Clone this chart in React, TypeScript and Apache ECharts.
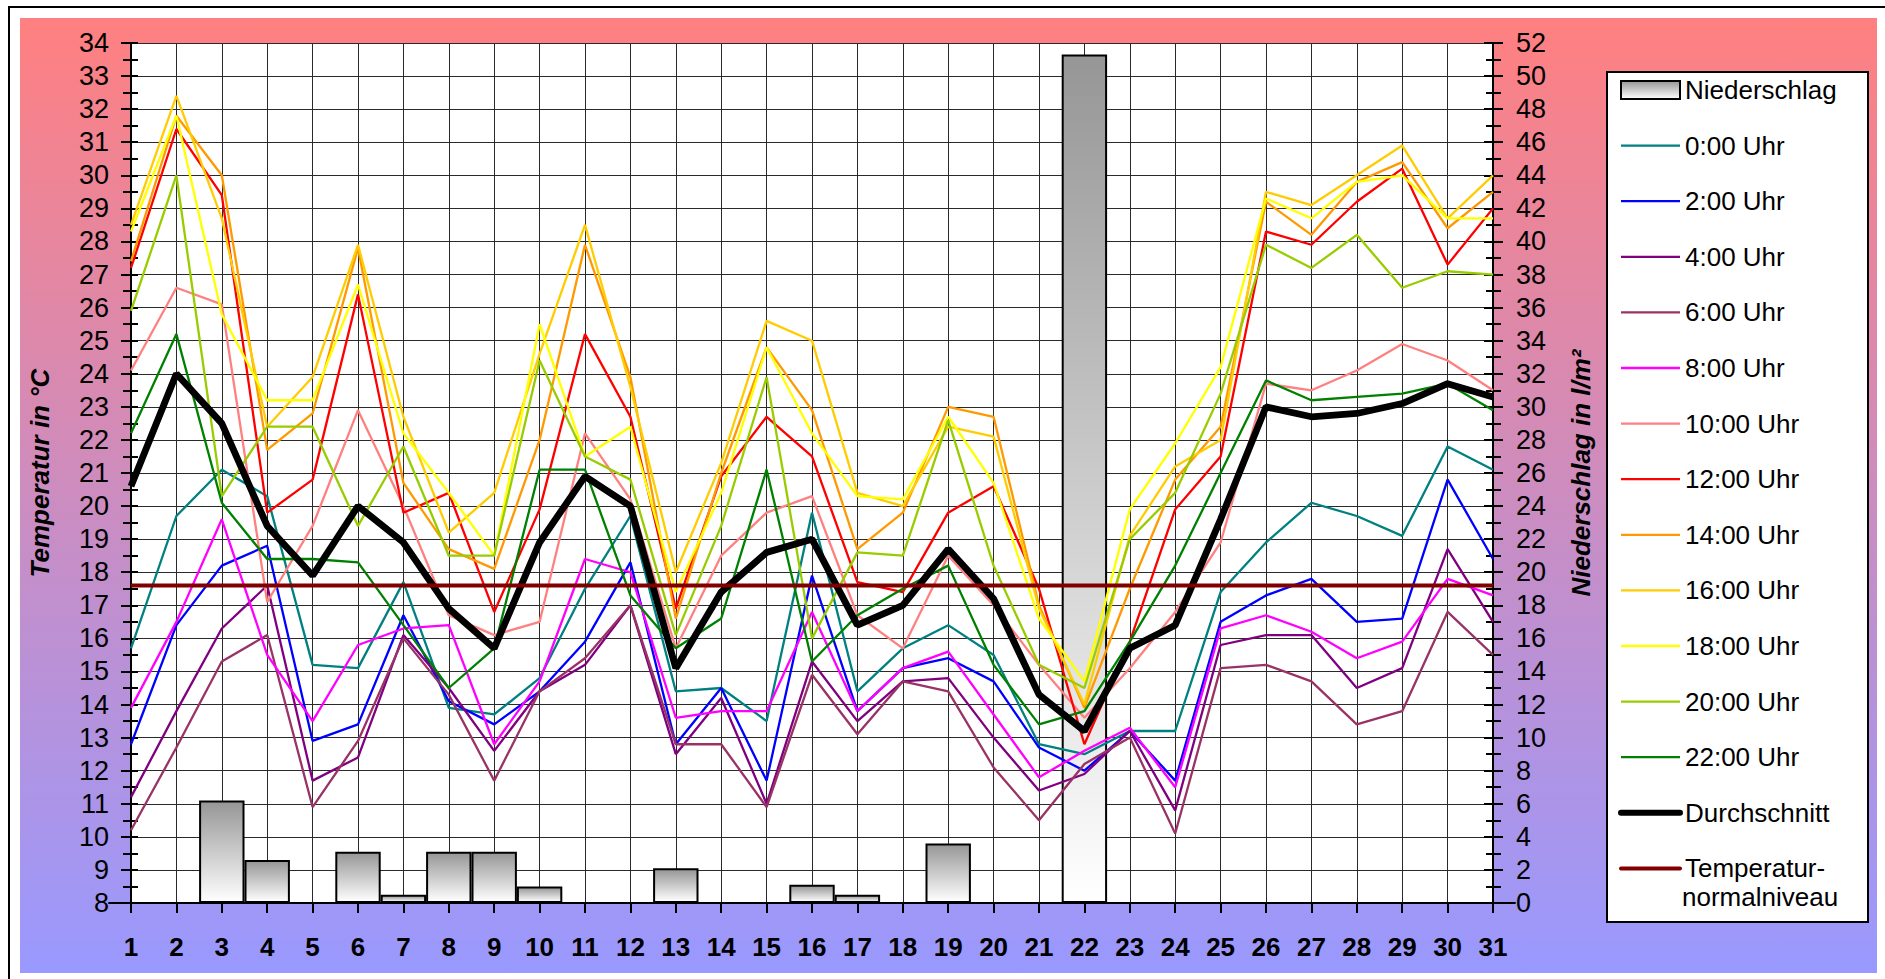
import React, { useEffect, useRef } from 'react';
import * as echarts from 'echarts';

const FONT = 'Arial, "Liberation Sans", sans-serif';

const days = ['1','2','3','4','5','6','7','8','9','10','11','12','13','14','15','16','17','18','19','20','21','22','23','24','25','26','27','28','29','30','31'];

// Niederschlag in l/m²
const rain = [0,0,6.2,2.6,0,3.1,0.5,3.1,3.1,1.0,0,0,2.1,0,0,1.1,0.5,0,3.6,0,0,51.3,0,0,0,0,0,0,0,0,0];

const t00 = [15.7,19.7,21.1,20.3,15.2,15.1,17.7,13.9,13.7,14.8,17.5,19.7,14.4,14.5,13.5,19.8,14.4,15.7,16.4,15.5,12.8,12.5,13.2,13.2,17.4,18.9,20.1,19.7,19.1,21.8,21.1];
const t02 = [12.8,16.4,18.2,18.8,12.9,13.4,16.7,14.1,13.4,14.4,15.9,18.3,12.8,14.5,11.7,17.9,13.8,15.1,15.4,14.7,12.7,12.0,13.2,11.7,16.5,17.3,17.8,16.5,16.6,20.8,18.4];
const t04 = [11.2,13.8,16.3,17.6,11.7,12.4,16.1,14.5,12.6,14.4,15.2,17.0,12.5,14.2,11.0,15.3,13.5,14.7,14.8,13.0,11.4,11.9,13.2,10.8,15.8,16.1,16.1,14.5,15.1,18.7,16.5];
const t06 = [10.2,12.7,15.3,16.1,10.9,12.9,16.0,14.3,11.7,14.4,15.4,17.0,12.8,12.8,10.9,14.9,13.1,14.7,14.4,12.1,10.5,12.2,13.0,10.1,15.1,15.2,14.7,13.4,13.8,16.8,15.5];
const t08 = [13.9,16.5,19.6,15.5,13.5,15.8,16.3,16.4,12.8,14.7,18.4,18.0,13.6,13.8,13.8,16.8,13.8,15.1,15.6,13.7,11.8,12.6,13.3,11.5,16.3,16.7,16.2,15.4,15.9,17.8,17.3];
const t10 = [24.1,26.6,26.1,17.1,19.4,22.9,20.0,16.7,16.1,16.5,22.2,20.2,15.7,18.5,19.8,20.3,16.7,15.7,18.5,17.0,15.2,13.6,15.1,16.8,18.9,23.7,23.5,24.1,24.9,24.4,23.5];
const t12 = [27.2,31.4,29.4,19.8,20.8,26.4,19.8,20.4,16.8,19.9,25.2,22.7,16.9,20.9,22.7,21.5,17.7,17.4,19.8,20.6,17.5,12.8,15.9,19.9,21.5,28.3,27.9,29.2,30.2,27.3,29.0];
const t14 = [27.4,31.8,30.0,21.7,22.8,27.8,20.7,18.7,18.1,22.0,27.9,23.9,16.6,21.0,24.8,22.9,18.7,19.8,23.0,22.7,17.0,13.9,17.5,20.8,22.4,29.2,28.2,29.8,30.4,28.4,29.5];
const t16 = [28.5,32.4,28.7,22.4,23.9,27.9,22.7,19.2,20.4,24.6,28.5,23.6,18.0,21.3,25.6,25.0,20.4,20.0,22.4,22.1,16.9,14.0,19.1,21.2,22.0,29.5,29.1,30.0,30.9,28.7,30.0];
const t18 = [28.3,31.8,25.8,23.2,23.2,26.7,22.2,20.4,18.5,25.5,21.5,22.4,17.4,20.4,24.8,22.2,20.3,20.2,22.7,20.7,16.6,14.7,19.9,21.9,24.2,29.3,28.7,29.8,30.0,28.7,28.7];
const t20 = [25.9,30.0,20.3,22.4,22.4,19.4,21.8,18.5,18.5,24.4,21.5,20.8,16.1,19.4,23.9,16.0,18.6,18.5,22.6,18.2,15.2,14.5,19.0,20.4,23.4,27.9,27.2,28.2,26.6,27.1,27.0];
const t22 = [22.2,25.2,20.1,18.4,18.4,18.3,16.4,14.5,15.7,21.1,21.1,17.3,15.7,16.6,21.1,15.3,16.7,17.5,18.2,15.2,13.4,13.8,15.9,18.2,21.0,23.8,23.2,23.3,23.4,23.7,22.9];
const avg = [20.6,24.0,22.5,19.4,17.9,20.0,18.9,16.9,15.7,18.9,20.9,20.0,15.1,17.4,18.6,19.0,16.4,17.0,18.7,17.2,14.3,13.2,15.7,16.4,19.6,23.0,22.7,22.8,23.1,23.7,23.3];
const normal = [17.6,17.6,17.6,17.6,17.6,17.6,17.6,17.6,17.6,17.6,17.6,17.6,17.6,17.6,17.6,17.6,17.6,17.6,17.6,17.6,17.6,17.6,17.6,17.6,17.6,17.6,17.6,17.6,17.6,17.6,17.6];

const hourNames = ['0:00 Uhr','2:00 Uhr','4:00 Uhr','6:00 Uhr','8:00 Uhr','10:00 Uhr','12:00 Uhr','14:00 Uhr','16:00 Uhr','18:00 Uhr','20:00 Uhr','22:00 Uhr'];
const hourColors = ['#008080','#0000FF','#800080','#993366','#FF00FF','#FF8080','#FF0000','#FF9900','#FFCC00','#FFFF00','#99CC00','#008000'];
const hourData = [t00,t02,t04,t06,t08,t10,t12,t14,t16,t18,t20,t22];

const RAIN_NAME = 'Niederschlag';
const AVG_NAME = 'Durchschnitt';
const NORMAL_NAME = 'Temperatur-normalniveau';

export default function App() {
  const ref = useRef<HTMLDivElement>(null);

  useEffect(() => {
    const chart = echarts.init(ref.current as HTMLDivElement, null, { renderer: 'svg' });

    const tickStyle = { color: '#000', width: 2 };
    const labelStyle = { fontSize: 27, color: '#000', fontFamily: FONT };
    const nameStyle = { fontSize: 26, fontWeight: 'bold', fontStyle: 'italic', color: '#000', fontFamily: FONT };

    const hourSeries = hourNames.map((n, i) => ({
      name: n,
      type: 'line',
      data: hourData[i],
      symbol: 'none',
      lineStyle: { color: hourColors[i], width: 2.3 },
      itemStyle: { color: hourColors[i] },
    }));

    const hiddenSymbol = { opacity: 0, borderWidth: 0 };

    const option: any = {
      animation: false,
      textStyle: { fontFamily: FONT },
      grid: { left: 131, right: 392, top: 43, bottom: 76, show: true, backgroundColor: '#ffffff', borderWidth: 0 },
      legend: {
        orient: 'vertical',
        left: 1618,
        top: 74.5,
        padding: 0,
        itemGap: 24.6,
        itemWidth: 59,
        itemHeight: 18,
        textStyle: { fontSize: 26, color: '#000', fontFamily: FONT, lineHeight: 31 },
        formatter: (n: string) => (n === NORMAL_NAME ? 'Temperatur-' : n),
        data: [
          { name: RAIN_NAME, icon: 'rect', itemStyle: { borderColor: '#000', borderWidth: 2 } },
          ...hourNames.map((n) => ({ name: n, lineStyle: { width: 2.3 }, itemStyle: hiddenSymbol })),
          { name: AVG_NAME, lineStyle: { width: 6, cap: 'round' }, itemStyle: hiddenSymbol },
          { name: NORMAL_NAME, lineStyle: { width: 4, cap: 'round' }, itemStyle: hiddenSymbol },
        ],
      },
      graphic: [
        {
          type: 'text',
          left: 1682,
          top: 884,
          style: { text: 'normalniveau', fontSize: 26, fill: '#000', fontFamily: FONT },
        },
      ],
      xAxis: [
        {
          type: 'category',
          data: days,
          boundaryGap: false,
          axisLine: { lineStyle: { color: '#000', width: 2 } },
          axisTick: { show: true, interval: 0, length: 10, lineStyle: tickStyle },
          axisLabel: { interval: 0, fontSize: 26, fontWeight: 'bold', color: '#000', margin: 31, fontFamily: FONT },
          splitLine: { show: true, interval: 0, lineStyle: { color: '#2a2a2a', width: 1 } },
        },
      ],
      yAxis: [
        {
          type: 'value', min: 8, max: 34, interval: 1, position: 'left',
          axisLine: { show: true, lineStyle: { color: '#000', width: 2 } },
          axisTick: { show: true, length: 10, lineStyle: tickStyle },
          minorTick: { show: true, splitNumber: 2, length: 8, lineStyle: tickStyle },
          axisLabel: { ...labelStyle, margin: 22 },
          splitLine: { show: true, lineStyle: { color: '#2a2a2a', width: 1 } },
          name: 'Temperatur in °C', nameLocation: 'middle', nameGap: 78, nameRotate: 90,
          nameTextStyle: nameStyle,
        },
        {
          type: 'value', min: 0, max: 52, interval: 2, position: 'right',
          axisLine: { show: true, lineStyle: { color: '#000', width: 2 } },
          axisTick: { show: true, length: 10, lineStyle: tickStyle },
          minorTick: { show: true, splitNumber: 2, length: 8, lineStyle: tickStyle },
          axisLabel: { ...labelStyle, margin: 23 },
          splitLine: { show: false },
          name: 'Niederschlag in l/m²', nameLocation: 'middle', nameGap: 75, nameRotate: 90,
          nameTextStyle: nameStyle,
        },
        {
          type: 'value', min: 8, max: 34, interval: 1, position: 'left',
          axisLine: { show: false }, axisLabel: { show: false }, splitLine: { show: false },
          axisTick: { show: true, inside: true, length: 7, lineStyle: tickStyle },
          minorTick: { show: true, splitNumber: 2, length: 7, lineStyle: tickStyle },
        },
        {
          type: 'value', min: 0, max: 52, interval: 2, position: 'right',
          axisLine: { show: false }, axisLabel: { show: false }, splitLine: { show: false },
          axisTick: { show: true, inside: true, length: 9, lineStyle: tickStyle },
          minorTick: { show: true, splitNumber: 2, length: 7, lineStyle: tickStyle },
        },
      ],
      series: [
        {
          name: RAIN_NAME,
          type: 'bar',
          yAxisIndex: 1,
          data: rain,
          barWidth: '100%',
          itemStyle: {
            color: new echarts.graphic.LinearGradient(0, 0, 0, 1, [
              { offset: 0, color: '#969696' },
              { offset: 1, color: '#ffffff' },
            ]),
            borderColor: '#000',
            borderWidth: 2,
          },
        },
        ...hourSeries,
        {
          name: AVG_NAME,
          type: 'line',
          data: avg,
          symbol: 'none',
          lineStyle: { color: '#000', width: 6.8 },
          itemStyle: { color: '#000' },
        },
        {
          name: NORMAL_NAME,
          type: 'line',
          data: normal,
          symbol: 'none',
          lineStyle: { color: '#800000', width: 4 },
          itemStyle: { color: '#800000' },
        },
      ],
    };

    chart.setOption(option);
    return () => chart.dispose();
  }, []);

  return (
    <div style={{ position: 'fixed', left: 0, top: 0, width: 1885, height: 979, background: '#fff', overflow: 'hidden' }}>
      <div style={{ position: 'absolute', left: 8, top: 6, width: 1900, height: 1000, borderLeft: '2px solid #000', borderTop: '2px solid #000' }} />
      <div style={{ position: 'absolute', left: 20, top: 18, width: 1857, height: 955, background: 'linear-gradient(#FF8080, #9999FF)' }} />
      <div style={{ position: 'absolute', left: 1606, top: 71, width: 263, height: 852, background: '#fff', border: '2px solid #000', boxSizing: 'border-box' }} />
      <div ref={ref} style={{ position: 'absolute', left: 0, top: 0, width: 1885, height: 979 }} />
    </div>
  );
}
